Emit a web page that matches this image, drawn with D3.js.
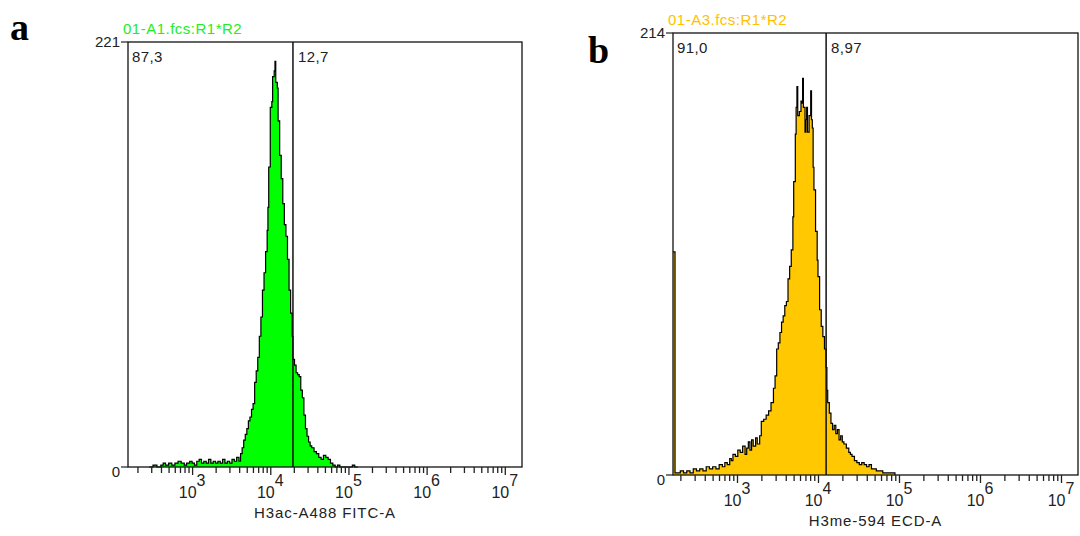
<!DOCTYPE html>
<html>
<head>
<meta charset="utf-8">
<script src="https://cdn.jsdelivr.net/npm/d3@7"></script>
<style>
  body { margin: 0; background: #fff; }
  svg { display: block; }
  text { font-family: "Liberation Sans", Arial, sans-serif; fill: #222; }
  .panel-label { font-family: "Liberation Serif", "Times New Roman", serif; font-weight: bold; font-size: 38px; fill: #000; }
</style>
</head>
<body>
<svg id="chart" width="1080" height="536"></svg>
<script>
// histogram a: log10 channel where a bin starts, and its count
const fitcLog = [2.45, 2.50, 2.55, 2.60, 2.63, 2.66, 2.70, 2.74, 2.78, 2.82, 2.86, 2.90, 2.93, 2.97, 3.00, 3.03,
  3.06, 3.09, 3.12, 3.15, 3.18, 3.21, 3.24, 3.27, 3.30, 3.33, 3.36, 3.39, 3.42, 3.45, 3.48, 3.51, 3.54, 3.57,
  3.60, 3.62, 3.64, 3.66, 3.68, 3.70, 3.72, 3.74, 3.76, 3.78, 3.80, 3.82, 3.84, 3.86, 3.88, 3.90, 3.92, 3.94,
  3.96, 3.97, 3.98, 4.00, 4.02, 4.03, 4.05, 4.06, 4.07, 4.09, 4.10, 4.12, 4.14, 4.16, 4.18, 4.20, 4.22, 4.24,
  4.26, 4.28, 4.29, 4.31, 4.33, 4.35, 4.37, 4.39, 4.41, 4.43, 4.45, 4.47, 4.49, 4.51, 4.53, 4.56, 4.59, 4.62,
  4.65, 4.68, 4.71, 4.74, 4.77, 4.80, 4.83, 4.86, 4.89, 5.05, 5.08, 5.12];
const fitcCount = [0, 1, 0, 1, 2, 1, 2, 1, 2, 3, 2, 1, 2, 3, 2, 1,
  3, 4, 2, 3, 2, 4, 2, 3, 2, 3, 2, 4, 2, 3, 2, 4, 3, 5,
  3, 7, 10, 14, 17, 20, 24, 26, 30, 33, 44, 50, 57, 68, 78, 92, 101, 112,
  123, 135, 156, 187, 190, 203, 206, 211, 200, 197, 180, 162, 150, 137, 126, 120, 108, 92,
  80, 68, 56, 53, 49, 48, 47, 40, 36, 27, 20, 16, 13, 11, 10, 8, 7, 5,
  4, 6, 5, 4, 2, 1, 0, 1, 0, 1, 0, 0];

// histogram b
const ecdLog = [2.21, 2.235, 2.26, 2.30, 2.34, 2.38, 2.42, 2.46, 2.50, 2.54, 2.58, 2.62, 2.66, 2.70, 2.74, 2.78,
  2.82, 2.85, 2.88, 2.91, 2.93, 2.95, 2.98, 3.01, 3.04, 3.07, 3.10, 3.12, 3.14, 3.16, 3.18, 3.20, 3.23, 3.25,
  3.28, 3.30, 3.33, 3.36, 3.39, 3.42, 3.45, 3.47, 3.49, 3.51, 3.53, 3.55, 3.57, 3.59, 3.61, 3.63, 3.65, 3.67,
  3.69, 3.70, 3.72, 3.73, 3.74, 3.75, 3.77, 3.79, 3.80, 3.81, 3.82, 3.84, 3.85, 3.86, 3.87, 3.89, 3.91, 3.92,
  3.93, 3.94, 3.95, 3.97, 3.99, 4.00, 4.02, 4.04, 4.06, 4.08, 4.10, 4.11, 4.12, 4.14, 4.16, 4.18, 4.20, 4.22,
  4.24, 4.26, 4.28, 4.30, 4.32, 4.35, 4.38, 4.40, 4.42, 4.45, 4.48, 4.51, 4.54, 4.57, 4.60, 4.63, 4.66, 4.69,
  4.72, 4.76, 4.80, 4.85, 4.90, 4.95];
const ecdCount = [108, 1, 1, 2, 1, 2, 1, 3, 2, 3, 2, 4, 3, 4, 3, 5,
  4, 6, 5, 8, 7, 10, 9, 12, 11, 14, 10, 13, 16, 12, 17, 14, 18, 15,
  19, 26, 27, 29, 31, 35, 42, 48, 61, 64, 69, 74, 77, 82, 84, 95, 101, 109,
  125, 142, 165, 178, 188, 174, 176, 181, 180, 192, 178, 166, 172, 178, 166, 174, 186, 172,
  168, 149, 138, 118, 104, 96, 80, 72, 67, 61, 52, 41, 35, 30, 25, 22, 24, 20,
  22, 17, 19, 16, 15, 13, 11, 10, 9, 7, 6, 5, 6, 5, 4, 5, 3, 3,
  2, 2, 1, 1, 1, 0];

const decadeLabels = [3, 4, 5, 6, 7];

const panels = [
  {
    letter: 'a', letterX: 10, letterY: 40,
    title: '01-A1.fcs:R1*R2', titleColor: '#22ee22',
    xLabel: 'H3ac-A488 FITC-A',
    logs: fitcLog, counts: fitcCount, yMax: 221,
    gate: 19500, leftPct: '87,3', rightPct: '12,7',
    fill: '#00ff00',
    domain: [2.18, 7.22],
    left: 128, right: 522, top: 42, bottom: 467
  },
  {
    letter: 'b', letterX: 588, letterY: 63,
    title: '01-A3.fcs:R1*R2', titleColor: '#ffc000',
    xLabel: 'H3me-594 ECD-A',
    logs: ecdLog, counts: ecdCount, yMax: 214,
    gate: 12600, leftPct: '91,0', rightPct: '8,97',
    fill: '#ffc800',
    domain: [2.21, 7.21],
    left: 673, right: 1078, top: 33, bottom: 475
  }
];

const svg = d3.select('#chart');

panels.forEach(p => {
  const g = svg.append('g');

  const x = d3.scaleLog()
    .domain([Math.pow(10, p.domain[0]), Math.pow(10, p.domain[1])])
    .range([p.left, p.right]);
  const y = d3.scaleLinear()
    .domain([0, p.yMax])
    .range([p.bottom, p.top]);

  const data = p.logs.map((l, i) => ({v: Math.pow(10, l), c: p.counts[i]}));

  const area = d3.area()
    .x(d => x(d.v))
    .y0(y(0))
    .y1(d => y(d.c))
    .curve(d3.curveStepAfter);
  const line = d3.line()
    .x(d => x(d.v))
    .y(d => y(d.c))
    .curve(d3.curveStepAfter);

  g.append('path')
    .datum(data)
    .attr('d', area)
    .attr('fill', p.fill);
  g.append('path')
    .datum(data)
    .attr('d', line)
    .attr('fill', 'none')
    .attr('stroke', '#000')
    .attr('stroke-width', 1.2);

  // plot frame
  g.append('rect')
    .attr('x', p.left).attr('y', p.top)
    .attr('width', p.right - p.left).attr('height', p.bottom - p.top)
    .attr('fill', 'none')
    .attr('stroke', '#111')
    .attr('stroke-width', 1.3);

  // gate marker
  g.append('line')
    .attr('x1', x(p.gate)).attr('x2', x(p.gate))
    .attr('y1', p.top).attr('y2', p.bottom)
    .attr('stroke', '#111')
    .attr('stroke-width', 1.5);

  // x axis ticks (log, 1..9 per decade)
  const tickVals = x.ticks();
  const xAxis = d3.axisBottom(x)
    .tickValues(tickVals)
    .tickSize(6)
    .tickFormat('');
  const xAxisG = g.append('g')
    .attr('transform', `translate(0,${p.bottom})`)
    .call(xAxis)
    .call(a => a.select('.domain').remove());
  xAxisG.selectAll('.tick line')
    .attr('stroke', '#222')
    .attr('stroke-width', 1.3)
    .attr('y2', d => Number.isInteger(Math.round(Math.log10(d) * 1000) / 1000) ? 8 : 6);

  decadeLabels.forEach(e => {
    const t = g.append('text')
      .attr('x', x(Math.pow(10, e)))
      .attr('y', p.bottom + 31)
      .attr('text-anchor', 'middle')
      .style('font-size', '16px');
    t.append('tspan').text('10');
    t.append('tspan').attr('dy', -12).text(e);
  });

  // y ticks at 0 and max
  [0, p.yMax].forEach(v => {
    g.append('line')
      .attr('x1', p.left - 7).attr('x2', p.left)
      .attr('y1', y(v)).attr('y2', y(v))
      .attr('stroke', '#222').attr('stroke-width', 1.2);
    g.append('text')
      .attr('x', p.left - 8)
      .attr('y', y(v) + (v === 0 ? 10 : 5))
      .attr('text-anchor', 'end')
      .style('font-size', '15px')
      .text(v);
  });

  // gate percentages
  g.append('text')
    .attr('x', p.left + 4).attr('y', p.top + 20)
    .style('font-size', '15px').style('letter-spacing', '0.4px')
    .text(p.leftPct);
  g.append('text')
    .attr('x', x(p.gate) + 5).attr('y', p.top + 20)
    .style('font-size', '15px').style('letter-spacing', '0.4px')
    .text(p.rightPct);

  // titles
  g.append('text')
    .attr('x', p.left - 5).attr('y', p.top - 8)
    .style('font-size', '15px').style('letter-spacing', '0.5px')
    .style('fill', p.titleColor)
    .text(p.title);
  g.append('text')
    .attr('x', (p.left + p.right) / 2)
    .attr('y', p.bottom + 51)
    .attr('text-anchor', 'middle')
    .style('font-size', '15px').style('letter-spacing', '0.9px')
    .text(p.xLabel);

  svg.append('text')
    .attr('class', 'panel-label')
    .attr('x', p.letterX).attr('y', p.letterY)
    .text(p.letter);
});
</script>
</body>
</html>
